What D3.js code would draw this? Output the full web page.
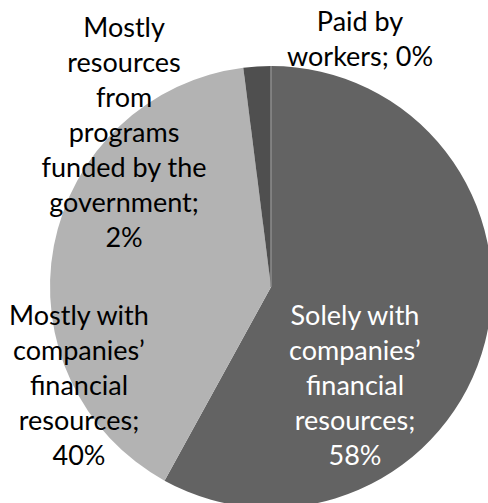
<!DOCTYPE html>
<html>
<head>
<meta charset="utf-8">
<script src="https://cdn.jsdelivr.net/npm/d3@7"></script>
<style>
  html, body { margin: 0; padding: 0; background: #ffffff; }
  svg { display: block; }
</style>
</head>
<body>
<svg id="chart" width="488" height="503"></svg>
<script>
// ---- data ----
const categories = [
  "Solely with companies’ financial resources",
  "Mostly with companies’ financial resources",
  "Mostly resources from programs funded by the government",
  "Paid by workers"
];
const values = [58, 40, 2, 0];
// wrapped label text ({v} replaced by the value)
const labelLines = [
  ["Solely with", "companies’", "financial", "resources;", "{v}%"],
  ["Mostly with", "companies’", "financial", "resources;", "{v}%"],
  ["Mostly", "resources", "from", "programs", "funded by the", "government;", "{v}%"],
  ["Paid by", "workers; {v}%"]
];

// ---- layout / style ----
const W = 488, H = 503;
const cx = 271, cy = 287, R = 221;
const colors = ["#636363", "#b3b3b3", "#4f4f4f", "#8c8c8c"];
const textColors = ["#ffffff", "#000000", "#000000", "#000000"];
// label block centres as offsets relative to pie centre (in radius units)
const labelOffsets = [[0.38, 0.445], [-0.869, 0.445], [-0.665, -0.70], [0.403, -1.12]];
const fontSize = 27, lineH = 35;

const svg = d3.select("#chart");
const g = svg.append("g").attr("transform", `translate(${cx},${cy})`);

const pie = d3.pie().sort(null).value(d => d).startAngle(0).endAngle(2 * Math.PI);
const arcs = pie(values);
const arc = d3.arc().innerRadius(0).outerRadius(R);

g.selectAll("path.slice")
  .data(arcs)
  .join("path")
  .attr("class", "slice")
  .attr("d", arc)
  .attr("fill", (d, i) => colors[i])
  .attr("stroke", (d, i) => d.value === 0 ? colors[i] : "none")
  .attr("stroke-width", 1);

const labels = g.selectAll("text.lbl")
  .data(arcs)
  .join("text")
  .attr("class", "lbl")
  .attr("text-anchor", "middle")
  .attr("font-family", "Lato, 'Liberation Sans', sans-serif")
  .attr("font-size", fontSize)
  .attr("fill", (d, i) => textColors[i]);

labels.each(function (d, i) {
  const lines = labelLines[i].map(s => s.replace("{v}", values[i]));
  const n = lines.length;
  const ox = labelOffsets[i][0] * R, oy = labelOffsets[i][1] * R;
  const firstBaseline = oy - (n - 1) * lineH / 2 + fontSize * 0.35;
  d3.select(this).selectAll("tspan")
    .data(lines)
    .join("tspan")
    .attr("x", ox)
    .attr("y", (s, k) => firstBaseline + k * lineH)
    .text(s => s);
});
</script>
</body>
</html>
